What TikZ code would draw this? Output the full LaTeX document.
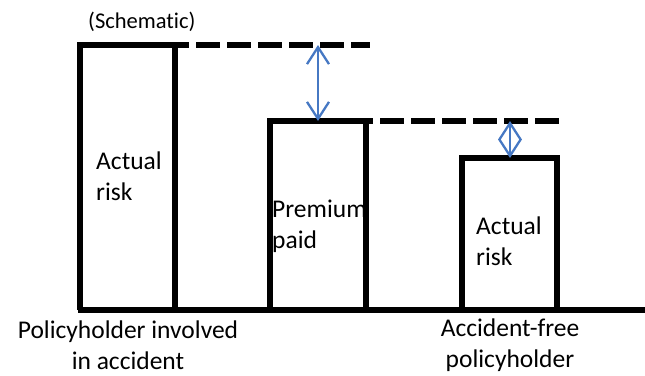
\documentclass[tikz,border=0pt]{standalone}
\usepackage{fontspec}
\setmainfont[Ligatures=NoCommon]{Carlito}
\usepackage{xcolor}
\usepackage{tikz}
\usetikzlibrary{arrows.meta}

\definecolor{gapblue}{RGB}{70,120,195}

\begin{document}
\begin{tikzpicture}[
    x=1pt, y=-1pt,
    bar/.style={line width=5.2pt, line join=miter},
    level/.style={line width=5.2pt, dash pattern=on 24pt off 7pt},
    gap/.style={draw=gapblue, line width=2.3pt,
      {Straight Barb[length=17pt, width=22pt]}-{Straight Barb[length=17pt, width=22pt]}},
    lbl/.style={font=\fontsize{25.5}{31}\selectfont, align=left, inner sep=0pt}
]
\useasboundingbox (0,0) rectangle (645,375);

% corners of the three bars
\coordinate (hitL) at (80,310);   \coordinate (hitTL) at (80,45);
\coordinate (hitTR) at (175,45);  \coordinate (hitR) at (175,310);
\coordinate (premL) at (270,310); \coordinate (premTL) at (270,121);
\coordinate (premTR) at (366,121); \coordinate (premR) at (366,310);
\coordinate (freeL) at (462,310); \coordinate (freeTL) at (462,158);
\coordinate (freeTR) at (557,158); \coordinate (freeR) at (557,310);
\coordinate (axisL) at (78,310);  \coordinate (axisR) at (645,310);
\coordinate (riskEnd) at (370,45);
\coordinate (premEnd) at (560,121);

% bars and ground line
\draw [bar] (hitL) -- (hitTL) -- (hitTR) -- (hitR);
\draw [bar] (premL) -- (premTL) -- (premTR) -- (premR);
\draw [bar] (freeL) -- (freeTL) -- (freeTR) -- (freeR);
\draw [bar] (axisL) -- (axisR);

% dashed levels
\draw [level, dash phase=10pt] (hitTR) -- (riskEnd);
\draw [level, dash phase=17pt] (premTR) -- (premEnd);

% differences
\coordinate (g1top) at (318,45);  \coordinate (g1bot) at (318,121);
\coordinate (g2top) at (510,121); \coordinate (g2bot) at (510,158);
\draw [gap] (g1top) -- (g1bot);
\draw [gap] (g2top) -- (g2bot);

% labels
\node [lbl, font=\fontsize{22.5}{27}\selectfont, anchor=west] (title) at (88,22) {(Schematic)};
\node [lbl, anchor=west] (hitrisk) at (96,176) {Actual\\risk};
\node [lbl, anchor=west] (premium) at (272,226) {Premium\\paid};
\node [lbl, anchor=west] (freerisk) at (476,241) {Actual\\risk};
\node [lbl, align=center] (hitname) at (128,345) {Policyholder involved\\in accident};
\node [lbl, align=center] (freename) at (510,345) {Accident-free\\policyholder};

\end{tikzpicture}
\end{document}
